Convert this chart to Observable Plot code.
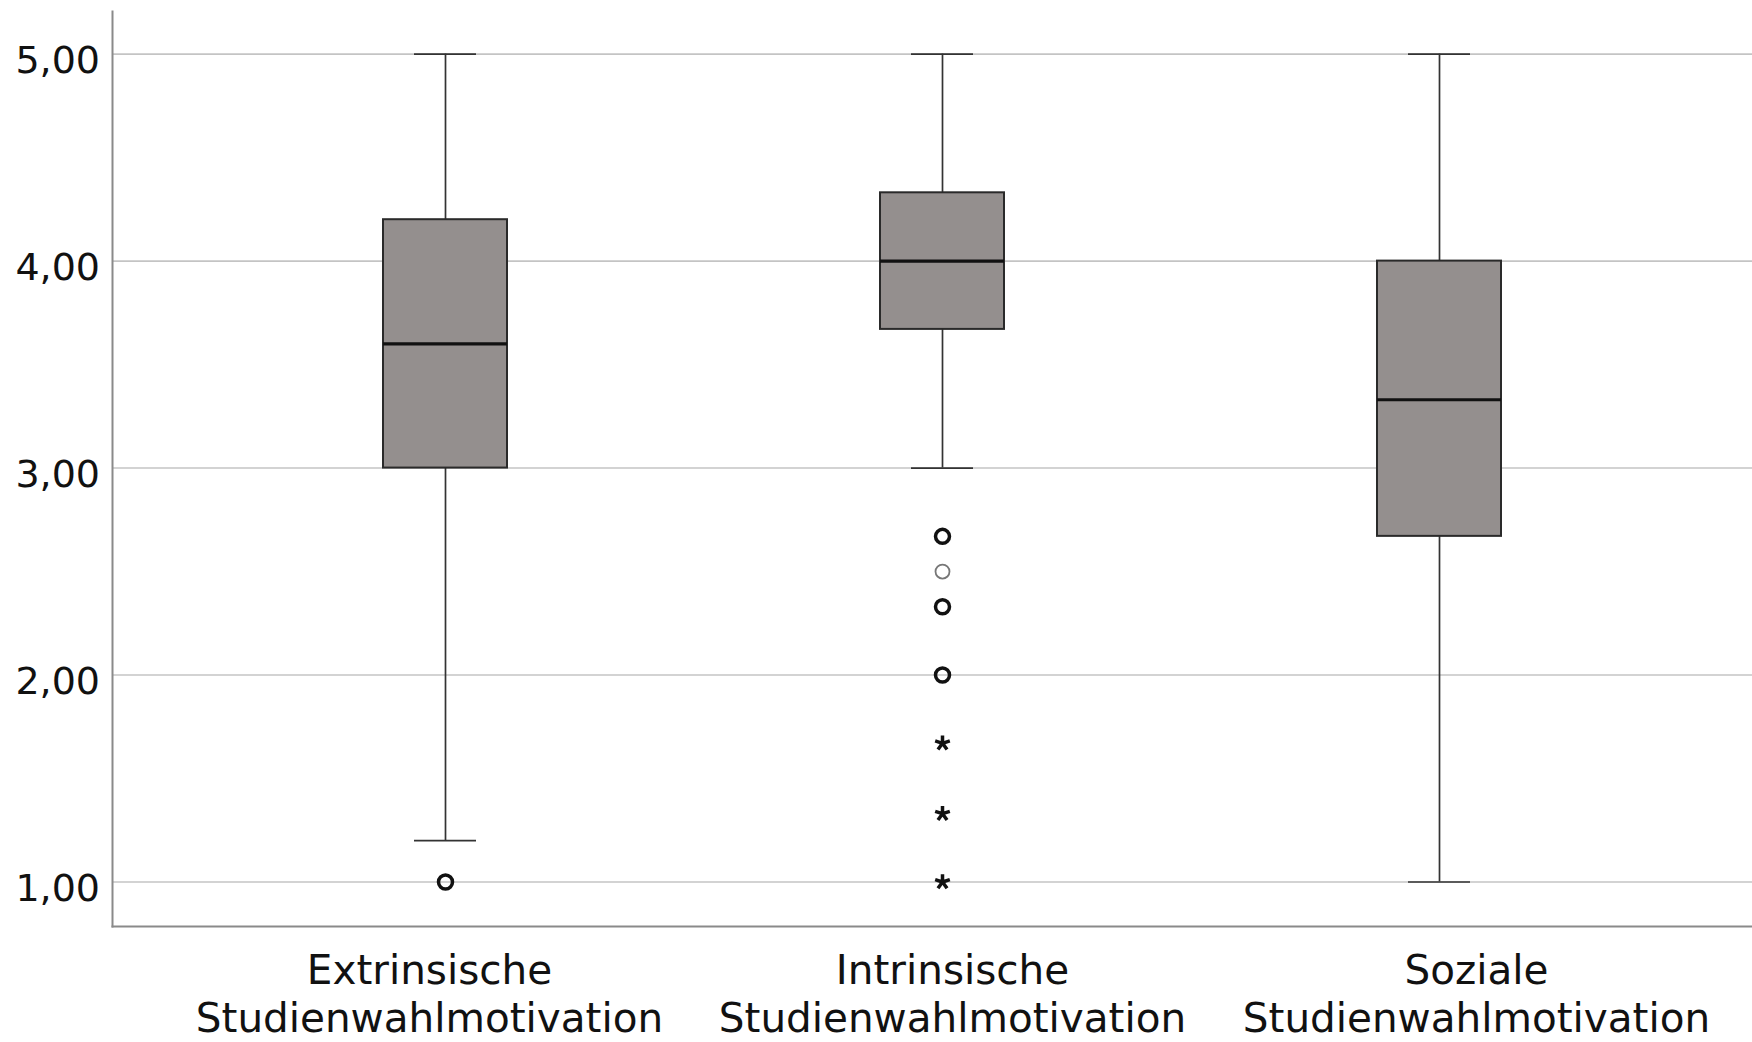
<!DOCTYPE html>
<html>
<head>
<meta charset="utf-8">
<script src="https://cdn.jsdelivr.net/npm/d3@7"></script>
<script src="https://cdn.jsdelivr.net/npm/@observablehq/plot@0.6"></script>
<style>
  html, body { margin: 0; padding: 0; background: #fff; }
  #chart svg { display: block; }
</style>
</head>
<body>
<div id="chart"></div>
<script>
// Categories (x-axis labels)
const categories = [
  "Extrinsische\nStudienwahlmotivation",
  "Intrinsische\nStudienwahlmotivation",
  "Soziale\nStudienwahlmotivation"
];
// Box plot statistics
const whiskerLow  = [1.20, 3.00, 1.00];
const q1          = [3.00, 3.67, 2.67];
const median      = [3.60, 4.00, 3.33];
const q3          = [4.20, 4.33, 4.00];
const whiskerHigh = [5.00, 5.00, 5.00];

// Outliers (circle = outlier, star = extreme value); cases = overlapping cases drawn bold
const outlierCategory = [0, 1, 1, 1, 1, 1, 1, 1];
const outlierValue    = [1.00, 2.67, 2.50, 2.33, 2.00, 1.67, 1.33, 1.00];
const outlierKind     = ["circle", "circle", "circle", "circle", "circle", "star", "star", "star"];
const outlierCases    = [2, 2, 1, 2, 2, 1, 1, 1];

// Y-axis ticks
const yTicks = [1, 2, 3, 4, 5];

const boxes = categories.map((c, i) => ({
  cat: c, lo: whiskerLow[i], q1: q1[i], med: median[i], q3: q3[i], hi: whiskerHigh[i]
}));
const outliers = outlierValue.map((v, i) => ({
  cat: categories[outlierCategory[i]], value: v, kind: outlierKind[i], cases: outlierCases[i]
}));

// five-armed asterisk symbol
const star5 = {
  draw(context, size) {
    const r = Math.sqrt(size) * 0.75;
    for (let k = 0; k < 5; ++k) {
      const a = -Math.PI / 2 + k * 2 * Math.PI / 5;
      context.moveTo(0, 0);
      context.lineTo(r * Math.cos(a), r * Math.sin(a));
    }
  }
};

// SPSS places the category labels slightly off the box centres
const labelShift = [-16, 10, 37];

const chart = Plot.plot({
  width: 1752,
  height: 1042,
  marginLeft: 112,
  marginRight: 0,
  marginTop: 11,
  marginBottom: 116,
  style: { fontFamily: "DejaVu Sans", background: "#fff" },
  x: { type: "band", domain: categories, range: [382, 1501], paddingInner: 0.751, paddingOuter: 0, label: null },
  y: { domain: [0.785, 5.206], label: null },
  marks: [
    Plot.ruleY(yTicks, { stroke: "#c4c4c4", strokeWidth: 1.6 }),
    Plot.frame({ anchor: "left", stroke: "#8a8a8a", strokeWidth: 2 }),
    Plot.frame({ anchor: "bottom", stroke: "#8a8a8a", strokeWidth: 2 }),
    // whiskers
    Plot.ruleX(boxes, { x: "cat", y1: "lo", y2: "q1", stroke: "#333", strokeWidth: 1.7 }),
    Plot.ruleX(boxes, { x: "cat", y1: "q3", y2: "hi", stroke: "#333", strokeWidth: 1.7 }),
    Plot.tickY(boxes, { x: "cat", y: "lo", stroke: "#333", strokeWidth: 1.7, inset: 31 }),
    Plot.tickY(boxes, { x: "cat", y: "hi", stroke: "#333", strokeWidth: 1.7, inset: 31 }),
    // boxes
    Plot.barY(boxes, { x: "cat", y1: "q1", y2: "q3", fill: "#948f8e", stroke: "#2a2a2a", strokeWidth: 2 }),
    Plot.tickY(boxes, { x: "cat", y: "med", stroke: "#111", strokeWidth: 3.2 }),
    // outliers
    Plot.dot(outliers.filter(d => d.kind === "circle"), {
      x: "cat", y: "value", r: 7, fill: "none",
      stroke: d => d.cases > 1 ? "#111" : "#777",
      strokeWidth: d => d.cases > 1 ? 3.5 : 1.8
    }),
    Plot.dot(outliers.filter(d => d.kind === "star"), {
      x: "cat", y: "value", symbol: star5, r: 5.8, fill: "none", stroke: "#111", strokeWidth: 3.5
    }),
    Plot.axisY(yTicks, {
      tickSize: 0, tickPadding: 12.5, fontSize: 38, dy: 7,
      tickFormat: d => d.toFixed(2).replace(".", ","), fill: "#111"
    }),
    ...categories.map((c, i) => Plot.axisX([c], {
      tickSize: 0, tickPadding: 23, fontSize: 40.5, lineHeight: 1.185, fill: "#111",
      dx: labelShift[i]
    }))
  ]
});
document.getElementById("chart").appendChild(chart);
</script>
</body>
</html>
